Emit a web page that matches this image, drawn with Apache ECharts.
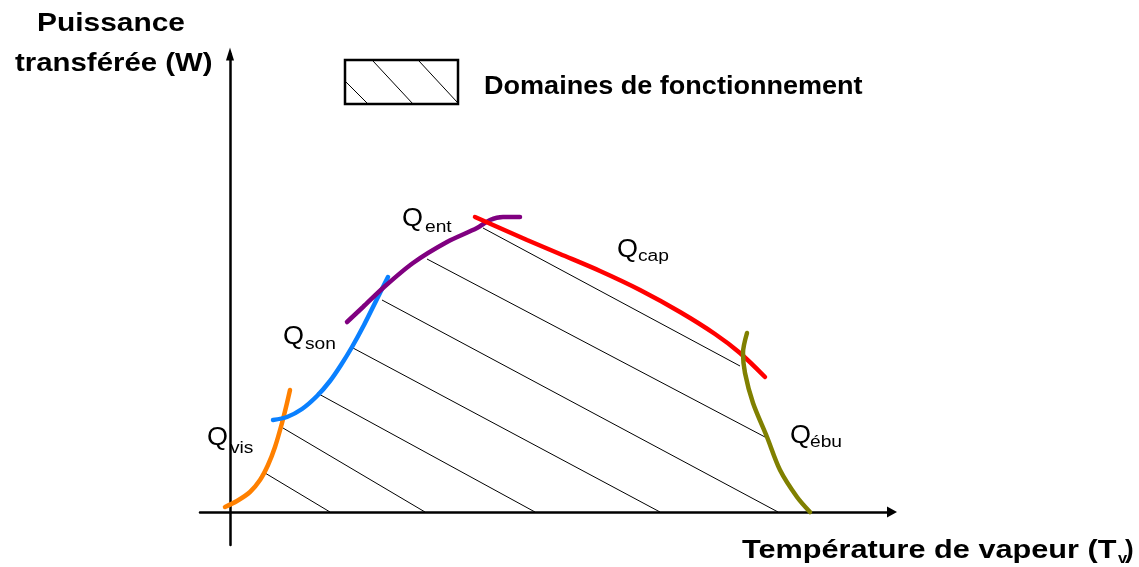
<!DOCTYPE html>
<html>
<head>
<meta charset="utf-8">
<title>Domaines de fonctionnement</title>
<script src="https://cdn.jsdelivr.net/npm/echarts@6/dist/echarts.min.js"></script>
<style>
  html, body { margin: 0; padding: 0; background: #fff; }
  #chart { width: 1139px; height: 567px; }
</style>
</head>
<body>
<div id="chart"></div>
<script>
// schematic values (arbitrary units, origin where the two axes cross)
var qVis = [[-5, 5], [7, 11], [20, 20], [30, 32], [38, 47], [45, 65], [52, 89], [57, 109], [60, 122]];
var qSon = [[43, 92], [57, 95], [72, 103], [87, 116], [100, 131], [111, 147], [122, 165], [134, 187], [146, 211], [158, 235]];
var qEnt = [[117, 190], [133, 205], [153, 224], [183, 249], [217, 270], [247, 284], [260, 292], [273, 295], [290, 295]];
var qCap = [[245, 295], [263, 287], [297, 272], [330, 258], [370, 241], [410, 222], [450, 200], [485, 178], [510, 159], [535, 135]];
var qEbu = [[517, 179], [513, 159], [515, 139], [523, 109], [537, 75], [550, 42], [567, 15], [580, 0]];

// hatching of the operating domain
var hatchStart = [[35, 39], [53, 84], [87, 119], [123, 164], [152, 212], [197, 253], [253, 284]];
var hatchEnd = [[100, 0], [195, 0], [305, 0], [430, 0], [548, 0], [535, 75], [510, 146]];

var chart = echarts.init(document.getElementById('chart'));

var curves = [
  { name: 'Qvis', color: '#ff8000', data: qVis },
  { name: 'Qson', color: '#0a80ff', data: qSon },
  { name: 'Qent', color: '#800080', data: qEnt },
  { name: 'Qcap', color: '#ff0000', data: qCap },
  { name: 'Qebu', color: '#808000', data: qEbu }
];

var series = [];
for (var i = 0; i < hatchStart.length; i++) {
  series.push({
    type: 'line',
    data: [hatchStart[i], hatchEnd[i]],
    showSymbol: false,
    lineStyle: { color: '#000', width: 1 },
    z: 1
  });
}
curves.forEach(function (c) {
  series.push({
    name: c.name,
    type: 'line',
    smooth: 0.3,
    showSymbol: false,
    data: c.data,
    lineStyle: { color: c.color, width: 4.5, cap: 'round' },
    z: 3
  });
});

// text helper: left edge and baseline in pixels
function txt(text, left, base, size, weight, sx) {
  return {
    type: 'text',
    x: left,
    y: base - 0.35 * size,
    scaleX: sx || 1,
    silent: true,
    style: {
      text: text,
      font: (weight || 'normal') + ' ' + size + 'px "Liberation Sans", Arial, sans-serif',
      fill: '#000',
      align: 'left',
      verticalAlign: 'middle'
    }
  };
}

var graphic = [
  txt('Puissance', 37, 33, 26, 'bold', 1.15),
  txt('transférée (W)', 15, 73, 26, 'bold', 1.13),
  txt('Température de vapeur (T', 742, 560, 26, 'bold', 1.18),
  txt('v', 1118, 564, 15, 'bold', 1.1),
  txt(')', 1125, 560, 26, 'bold', 1.0),
  txt('Domaines de fonctionnement', 484, 96, 26, 'bold', 1.04),
  // legend box
  { type: 'rect', shape: { x: 345, y: 60, width: 113, height: 44 }, style: { fill: 'none', stroke: '#000', lineWidth: 2.5 } },
  { type: 'line', shape: { x1: 373, y1: 61, x2: 413, y2: 104 }, style: { stroke: '#000', lineWidth: 1 } },
  { type: 'line', shape: { x1: 419, y1: 61, x2: 457, y2: 102 }, style: { stroke: '#000', lineWidth: 1 } },
  { type: 'line', shape: { x1: 346, y1: 82, x2: 368, y2: 104 }, style: { stroke: '#000', lineWidth: 1 } },
  // curve labels
  txt('Q', 207, 447, 25, 'normal', 1.08), txt('vis', 230, 454, 16, 'normal', 1.2),
  txt('Q', 283, 346, 25, 'normal', 1.08), txt('son', 305, 350, 16, 'normal', 1.2),
  txt('Q', 402, 228, 25, 'normal', 1.08), txt('ent', 425, 233, 16, 'normal', 1.2),
  txt('Q', 617, 259, 25, 'normal', 1.08), txt('cap', 638, 262, 16, 'normal', 1.2),
  txt('Q', 790, 445, 25, 'normal', 1.08), txt('ébu', 810, 448, 16, 'normal', 1.2)
];

var axisLineStyle = { color: '#000', width: 2.5 };

var option = {
  backgroundColor: '#fff',
  animation: false,
  grid: { left: 200, right: 247, top: 54, bottom: 22 },
  xAxis: {
    type: 'value',
    min: -30,
    max: 662,
    axisLine: { show: true, onZero: true, symbol: ['none', 'triangle'], symbolSize: [11, 10], lineStyle: axisLineStyle },
    axisTick: { show: false },
    axisLabel: { show: false },
    splitLine: { show: false }
  },
  yAxis: {
    type: 'value',
    min: -33,
    max: 458,
    axisLine: { show: true, onZero: true, symbol: ['none', 'triangle'], symbolSize: [8, 13], lineStyle: axisLineStyle },
    axisTick: { show: false },
    axisLabel: { show: false },
    splitLine: { show: false }
  },
  graphic: graphic,
  series: series
};

chart.setOption(option);
</script>
</body>
</html>
